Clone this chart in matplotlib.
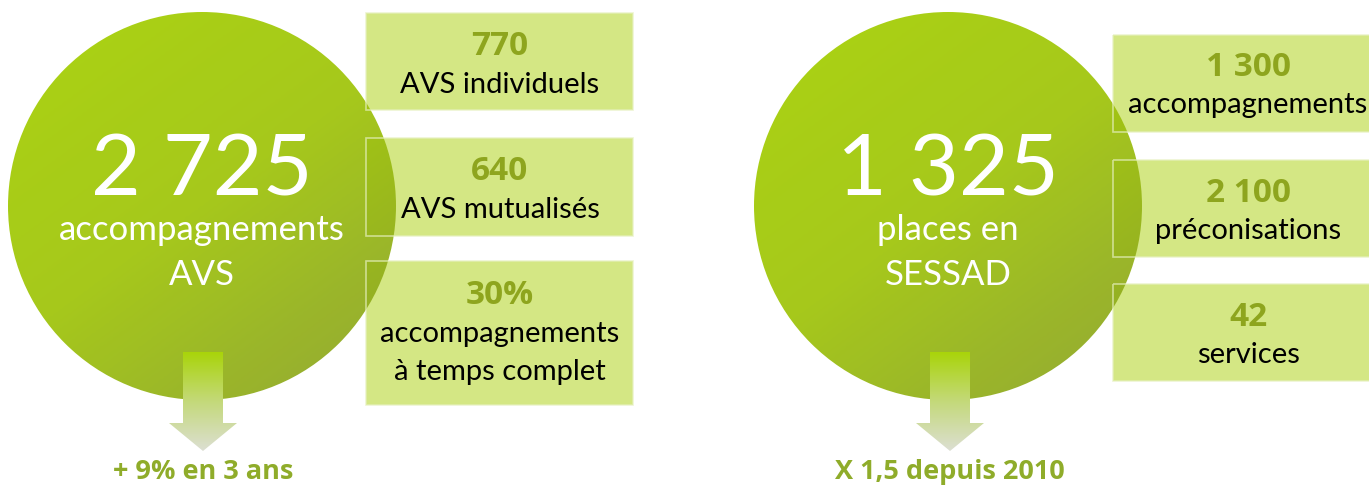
import numpy as np
import matplotlib
matplotlib.use("Agg")
import matplotlib.pyplot as plt
from matplotlib.patches import Circle, Rectangle, Polygon
from matplotlib.colors import LinearSegmentedColormap

plt.rcParams['font.family'] = ['Lato', 'DejaVu Sans']
BOLD_FAMILY = ['Open Sans', 'DejaVu Sans']

# ---- data ----
main_values = ["2 725", "1 325"]
main_labels = [["accompagnements", "AVS"], ["places en", "SESSAD"]]
box_values = [["770", "640", "30%"], ["1 300", "2 100", "42"]]
box_labels = [[["AVS individuels"], ["AVS mutualisés"], ["accompagnements", "à temps complet"]],
              [["accompagnements"], ["préconisations"], ["services"]]]
trend_labels = ["+ 9% en 3 ans", "X 1,5 depuis 2010"]

# ---- layout (pixel coordinates) ----
W, H = 1369, 489
fig = plt.figure(figsize=(W / 100, H / 100), dpi=100)
ax = fig.add_axes([0, 0, 1, 1])
ax.set_xlim(0, W)
ax.set_ylim(H, 0)
ax.axis('off')

circle_centers = [(202, 207), (948, 207)]
R = 194
box_x = [(366, 633), (1113, 1385)]
box_y = [[(14, 111), (139, 237), (262, 406)], [(36, 133), (161, 258), (285, 382)]]
val_base = [[55, 180, 304], [76, 202, 326]]
lab_base = [[[93], [218], [342, 380]], [[113], [239], [363]]]
big_base = [196, [240, 285]]
arrow_cx = [203, 950]
box_text_x = [500, 1248]

box_fill = '#d4e784'
num_col = '#8ea51e'
trend_col = '#8fac2a'

circ_cmap = LinearSegmentedColormap.from_list('c', ['#a6d100', '#9fc40a', '#8aa126'])
arr_cmap = LinearSegmentedColormap.from_list('a', ['#a9d40a', '#c4d97a', '#dcdfd2'])

for i in range(2):
    cx, cy = circle_centers[i]
    # boxes
    for j in range(3):
        y0, y1 = box_y[i][j]
        x0, x1 = box_x[i]
        ax.add_patch(Rectangle((x0, y0), x1 - x0, y1 - y0, facecolor=box_fill,
                               edgecolor='none', zorder=1))
    # circle with diagonal gradient
    n = 300
    yy, xx = np.mgrid[0:1:n * 1j, 0:1:n * 1j]
    grad = (xx * 0.55 + yy * 0.75)
    grad = (grad - grad.min()) / (grad.max() - grad.min())
    im = ax.imshow(grad, cmap=circ_cmap, extent=(cx - R, cx + R, cy + R, cy - R),
                   origin='upper', zorder=2, alpha=0.93, interpolation='bilinear')
    clip = Circle((cx, cy), R, transform=ax.transData, facecolor='none', edgecolor='none')
    ax.add_patch(clip)
    im.set_clip_path(clip)
    # box outlines (faint, visible over circle)
    for j in range(3):
        y0, y1 = box_y[i][j]
        x0, x1 = box_x[i]
        ax.add_patch(Rectangle((x0, y0), x1 - x0, y1 - y0, facecolor='none',
                               edgecolor='#e6f0bf', lw=1.2, alpha=0.7, zorder=3))
    # arrow with vertical gradient
    ac = arrow_cx[i]
    pts = [(ac - 20, 353), (ac + 20, 353), (ac + 20, 424), (ac + 34, 424), (ac, 452),
           (ac - 34, 424), (ac - 20, 424)]
    g = np.linspace(0, 1, 200)[:, None] * np.ones((1, 10))
    aim = ax.imshow(g, cmap=arr_cmap, extent=(ac - 35, ac + 35, 452, 353), origin='upper',
                    zorder=4, interpolation='bilinear', aspect='auto')
    poly = Polygon(pts, closed=True, transform=ax.transData, facecolor='none', edgecolor='none')
    ax.add_patch(poly)
    aim.set_clip_path(poly)

    # main text
    ax.text(cx, big_base[0], main_values[i], color='white', fontsize=62, ha='center',
            va='baseline', zorder=6)
    for k, lab in enumerate(main_labels[i]):
        ax.text(cx, big_base[1][k], lab, color='white', fontsize=25, ha='center',
                va='baseline', zorder=6)
    # box text
    bx = box_text_x[i]
    for j in range(3):
        ax.text(bx, val_base[i][j], box_values[i][j], color=num_col, fontsize=24,
                fontweight='bold', family=BOLD_FAMILY, ha='center', va='baseline', zorder=6)
        for k, lab in enumerate(box_labels[i][j]):
            ax.text(bx, lab_base[i][j][k], lab, color='black', fontsize=21, ha='center',
                    va='baseline', zorder=6)
    # trend text
    ax.text(ac, 479, trend_labels[i], color=trend_col, fontsize=19.5, fontweight='bold',
            family=BOLD_FAMILY, ha='center', va='baseline', zorder=6)

fig.savefig('out.png', dpi=100, facecolor='white')
